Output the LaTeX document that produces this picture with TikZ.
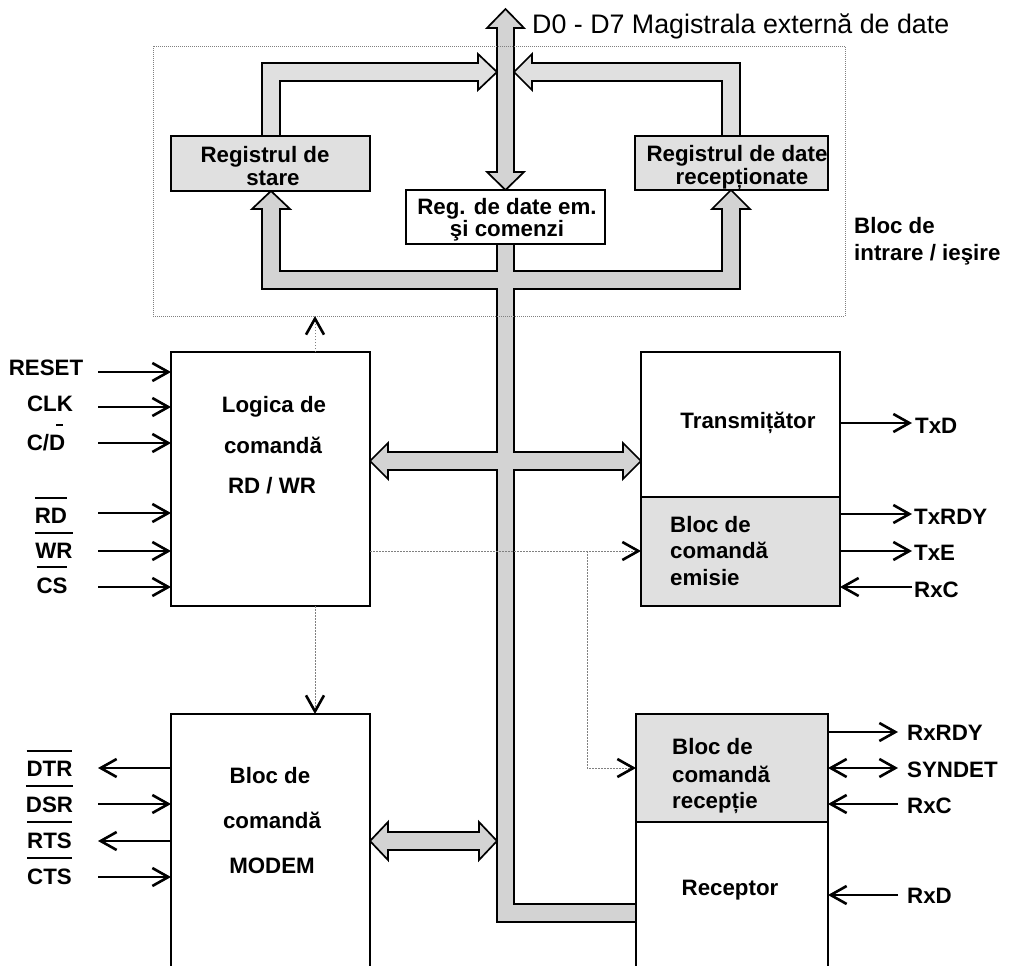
\documentclass[tikz,border=0pt]{standalone}
\usepackage{fontspec}
\setmainfont{Liberation Sans}
\usetikzlibrary{arrows.meta}
\definecolor{busdark}{RGB}{211,211,211}
\definecolor{buslight}{RGB}{224,224,224}
\definecolor{blockgray}{RGB}{224,224,224}
% active-low signal name: bar over the whole name
\newcommand\ovl[1]{\vbox{\hrule height 2pt\kern 9pt\hbox{#1}}}
\begin{document}
\begin{tikzpicture}[x=1pt,y=-1pt,
  lbl/.style={font=\fontsize{22.3}{26}\selectfont\bfseries, inner sep=0pt, anchor=base},
  lblw/.style={lbl, anchor=base west},
  block/.style={draw, line width=2pt, inner sep=0pt, outer sep=0pt, anchor=north west},
  bus/.style={line width=1.7pt, line join=miter},
  tip/.tip={Straight Barb[length=16pt,width=18pt,line width=2.6pt]},
  sig/.style={line width=2pt, -tip},
  sigboth/.style={line width=2pt, tip-tip},
  ctl/.style={draw=gray, line width=1pt, dash pattern=on 1.5pt off 1.5pt,
    -{Straight Barb[length=16pt,width=18pt,color=black,line width=2.6pt]}},
]
\useasboundingbox (0,0) rectangle (1021,966);
\clip (0,0) rectangle (1021,966);

% ---------- internal data bus ----------
% external data bus, up to the outside and down to the transmit/command register
\filldraw[bus, fill=busdark] (505.5,9) -- (524,28) -- (514,28) -- (514,172) -- (524,172)
  -- (505.5,190) -- (487,172) -- (497,172) -- (497,28) -- (487,28) -- cycle;
% status register -> data bus
\filldraw[bus, fill=buslight] (262,136) -- (262,63) -- (478,63) -- (478,54) -- (497,72)
  -- (478,90) -- (478,81) -- (280,81) -- (280,136);
% received data register -> data bus
\filldraw[bus, fill=buslight] (740,136) -- (740,63) -- (532,63) -- (532,54) -- (514,72)
  -- (532,90) -- (532,81) -- (722,81) -- (722,136);
% lower bus tree: registers, RD/WR logic, transmitter, receiver
\fill[busdark] (497,244) -- (497,271) -- (280,271) -- (280,209) -- (290,209) -- (271,191)
  -- (252,209) -- (262,209) -- (262,289) -- (497,289) -- (497,452) -- (388,452) -- (388,443)
  -- (370,461) -- (388,479) -- (388,470) -- (497,470) -- (497,922) -- (636,922)
  -- (636,904) -- (514,904) -- (514,470) -- (623,470) -- (623,479) -- (641,461) -- (623,443)
  -- (623,452) -- (514,452) -- (514,289) -- (740,289) -- (740,209) -- (750,209) -- (731,190)
  -- (712,209) -- (722,209) -- (722,271) -- (514,271) -- (514,244) -- cycle;
\draw[bus] (497,244) -- (497,271) -- (280,271) -- (280,209) -- (290,209) -- (271,191)
  -- (252,209) -- (262,209) -- (262,289) -- (497,289) -- (497,452) -- (388,452) -- (388,443)
  -- (370,461) -- (388,479) -- (388,470) -- (497,470) -- (497,922) -- (636,922);
\draw[bus] (636,904) -- (514,904) -- (514,470) -- (623,470) -- (623,479) -- (641,461) -- (623,443)
  -- (623,452) -- (514,452) -- (514,289) -- (740,289) -- (740,209) -- (750,209) -- (731,190)
  -- (712,209) -- (722,209) -- (722,271) -- (514,271) -- (514,244);
% modem control <-> data bus
\filldraw[bus, fill=busdark] (370,841) -- (388,822) -- (388,832) -- (479,832) -- (479,822)
  -- (497,841) -- (479,860) -- (479,850) -- (388,850) -- (388,860) -- cycle;

% ---------- blocks ----------
\node[block, fill=blockgray, minimum width=199pt, minimum height=55pt] (regst) at (171,136) {};
\node[block, fill=white, minimum width=199pt, minimum height=54pt] (regem) at (406,190) {};
\node[block, fill=blockgray, minimum width=193pt, minimum height=54pt] (regrx) at (635,136) {};
\node[block, fill=white, minimum width=199pt, minimum height=254pt] (logic) at (171,352) {};
\node[block, fill=white, minimum width=199pt, minimum height=145pt] (tx) at (641,352) {};
\node[block, fill=blockgray, minimum width=199pt, minimum height=109pt] (txc) at (641,497) {};
\node[block, fill=white, minimum width=199pt, minimum height=290pt] (modem) at (171,714) {};
\node[block, fill=blockgray, minimum width=192pt, minimum height=108pt] (rxc) at (636,714) {};
\node[block, fill=white, minimum width=192pt, minimum height=170pt] (rx) at (636,822) {};
% input/output group
\node[draw=gray, line width=0.8pt, dash pattern=on 1pt off 1pt, inner sep=0pt, outer sep=0pt,
  anchor=north west, minimum width=692pt, minimum height=270pt] (io) at (153,46) {};

% ---------- internal control lines ----------
\coordinate (cx) at (315,0);
\coordinate (cy) at (0,551);
\coordinate (br) at (587,551);
\coordinate (ry) at (0,768);
\draw[ctl] (logic.north -| cx) -- (io.south -| cx);
\draw[ctl] (logic.south -| cx) -- (modem.north -| cx);
\draw[ctl] (logic.east |- cy) -- (txc.west |- cy);
\draw[ctl] (br) |- (rxc.west |- ry);

% ---------- external signals ----------
\coordinate (pRESET) at (98,372);
\coordinate (pCLK) at (98,407);
\coordinate (pCD) at (98,443);
\coordinate (pRD) at (98,513);
\coordinate (pWR) at (98,551);
\coordinate (pCS) at (98,587);
\coordinate (pDTR) at (98,768);
\coordinate (pDSR) at (98,804);
\coordinate (pRTS) at (98,841);
\coordinate (pCTS) at (98,877);
\coordinate (pTxD) at (912,423);
\coordinate (pTxRDY) at (912,514);
\coordinate (pTxE) at (912,551);
\coordinate (pRxCt) at (912,587);
\coordinate (pRxRDY) at (898,732);
\coordinate (pSYN) at (898,768);
\coordinate (pRxCr) at (898,804);
\coordinate (pRxD) at (898,895);

\draw[sig] (pRESET) -- (pRESET -| logic.west);
\draw[sig] (pCLK) -- (pCLK -| logic.west);
\draw[sig] (pCD) -- (pCD -| logic.west);
\draw[sig] (pRD) -- (pRD -| logic.west);
\draw[sig] (pWR) -- (pWR -| logic.west);
\draw[sig] (pCS) -- (pCS -| logic.west);
\draw[sig] (pDTR -| modem.west) -- (pDTR);
\draw[sig] (pDSR) -- (pDSR -| modem.west);
\draw[sig] (pRTS -| modem.west) -- (pRTS);
\draw[sig] (pCTS) -- (pCTS -| modem.west);
\draw[sig] (pTxD -| tx.east) -- (pTxD);
\draw[sig] (pTxRDY -| txc.east) -- (pTxRDY);
\draw[sig] (pTxE -| txc.east) -- (pTxE);
\draw[sig] (pRxCt) -- (pRxCt -| txc.east);
\draw[sig] (pRxRDY -| rxc.east) -- (pRxRDY);
\draw[sigboth] (pSYN -| rxc.east) -- (pSYN);
\draw[sig] (pRxCr) -- (pRxCr -| rxc.east);
\draw[sig] (pRxD) -- (pRxD -| rx.east);

% ---------- texts ----------
\node[anchor=base west, inner sep=0pt, font=\fontsize{26.8}{30}\selectfont] (tBus) at (532,34) {D0 - D7 Magistrala externă de date};
\node[lbl] (tRegst1) at (265,162) {Registrul de};
\node[lbl] (tRegst2) at (273,185) {stare};
\node[lbl] (tRegem1) at (507,214) {Reg. de date em.};
\node[lbl] (tRegem2) at (507,236) {şi comenzi};
\node[lbl] (tRegrx1) at (737,161) {Registrul de date};
\node[lbl] (tRegrx2) at (742,184) {recepționate};
\node[lblw] (tIo1) at (854,233) {Bloc de};
\node[lblw] (tIo2) at (854,260) {intrare / ieşire};

\node[lbl] (tLog1) at (274,412) {Logica de};
\node[lbl] (tLog2) at (273,453) {comandă};
\node[lbl] (tLog3) at (272,493) {RD / WR};
\node[lbl] (tTx) at (748,428) {Transmițător};
\node[lblw] (tTxc1) at (670,532) {Bloc de};
\node[lblw] (tTxc2) at (670,558) {comandă};
\node[lblw] (tTxc3) at (670,585) {emisie};
\node[lbl] (tMod1) at (270,783) {Bloc de};
\node[lbl] (tMod2) at (272,828) {comandă};
\node[lbl] (tMod3) at (272,873) {MODEM};
\node[lblw] (tRxc1) at (672,754) {Bloc de};
\node[lblw] (tRxc2) at (672,782) {comandă};
\node[lblw] (tRxc3) at (672,808) {recepție};
\node[lbl] (tRx) at (730,895) {Receptor};

\node[lbl] (lRESET) at (46,375) {RESET};
\node[lbl] (lCLK) at (50,411) {CLK};
\node[lbl] (lCD) at (46,450) {C/\rlap{\kern7pt\raisebox{24pt}{\rule{7pt}{2pt}}}D};
\node[lbl] (lRD) at (51,523) {\ovl{RD}};
\node[lbl] (lWR) at (54,558) {\ovl{WR}};
\node[lbl] (lCS) at (52,593) {\ovl{CS}};
\node[lbl] (lDTR) at (49.5,776) {\ovl{DTR}};
\node[lbl] (lDSR) at (49.5,812) {\ovl{DSR}};
\node[lbl] (lRTS) at (49.5,848) {\ovl{RTS}};
\node[lbl] (lCTS) at (49.5,884) {\ovl{CTS}};

\node[lblw] (lTxD) at (915,433) {TxD};
\node[lblw] (lTxRDY) at (914,524) {TxRDY};
\node[lblw] (lTxE) at (914,560) {TxE};
\node[lblw] (lRxCt) at (914,597) {RxC};
\node[lblw] (lRxRDY) at (907,740) {RxRDY};
\node[lblw] (lSYN) at (907,777) {SYNDET};
\node[lblw] (lRxCr) at (907,813) {RxC};
\node[lblw] (lRxD) at (907,903) {RxD};
\end{tikzpicture}
\end{document}
